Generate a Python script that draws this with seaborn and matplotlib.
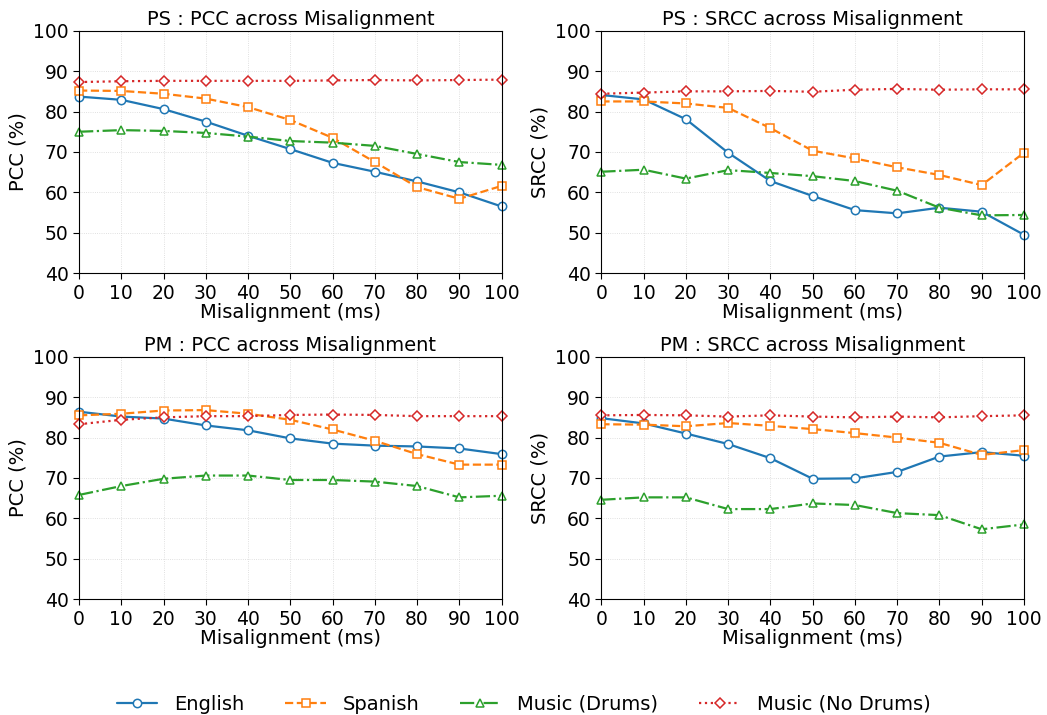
import numpy as np
import pandas as pd
import matplotlib
matplotlib.use("Agg")
import matplotlib.pyplot as plt
import seaborn as sns

misalignment = [0, 10, 20, 30, 40, 50, 60, 70, 80, 90, 100]
series_names = ["English", "Spanish", "Music (Drums)", "Music (No Drums)"]

ps_pcc_english = [83.7, 82.9, 80.6, 77.5, 74.0, 70.7, 67.3, 65.1, 62.7, 60.0, 56.5]
ps_pcc_spanish = [85.2, 85.1, 84.4, 83.2, 81.1, 77.9, 73.5, 67.5, 61.3, 58.4, 61.6]
ps_pcc_drums = [75.0, 75.4, 75.2, 74.7, 73.8, 72.7, 72.3, 71.5, 69.5, 67.5, 66.8]
ps_pcc_nodrums = [87.3, 87.5, 87.6, 87.6, 87.6, 87.6, 87.7, 87.8, 87.7, 87.8, 87.9]

ps_srcc_english = [84.1, 83.0, 78.1, 69.8, 62.8, 59.1, 55.6, 54.8, 56.2, 55.2, 49.5]
ps_srcc_spanish = [82.5, 82.5, 82.0, 80.9, 75.9, 70.3, 68.4, 66.2, 64.3, 61.8, 69.8]
ps_srcc_drums = [65.1, 65.6, 63.4, 65.5, 64.8, 64.0, 62.8, 60.4, 56.2, 54.3, 54.4]
ps_srcc_nodrums = [84.4, 84.7, 85.0, 85.0, 85.1, 84.9, 85.4, 85.6, 85.4, 85.5, 85.5]

pm_pcc_english = [86.4, 85.2, 84.7, 83.0, 81.8, 79.8, 78.5, 78.0, 77.8, 77.3, 75.9]
pm_pcc_spanish = [85.5, 85.9, 86.7, 86.8, 85.9, 84.4, 82.0, 79.2, 75.9, 73.3, 73.3]
pm_pcc_drums = [65.8, 68.0, 69.8, 70.6, 70.6, 69.5, 69.5, 69.1, 68.0, 65.2, 65.6]
pm_pcc_nodrums = [83.3, 84.4, 85.0, 85.3, 85.3, 85.6, 85.7, 85.6, 85.3, 85.3, 85.3]

pm_srcc_english = [84.8, 83.5, 81.0, 78.4, 74.9, 69.8, 69.9, 71.5, 75.3, 76.4, 75.5]
pm_srcc_spanish = [83.3, 83.2, 82.8, 83.6, 82.9, 82.1, 81.1, 80.0, 78.7, 75.7, 76.9]
pm_srcc_drums = [64.6, 65.2, 65.2, 62.3, 62.3, 63.7, 63.3, 61.3, 60.8, 57.3, 58.5]
pm_srcc_nodrums = [85.5, 85.6, 85.5, 85.2, 85.5, 85.2, 85.0, 85.2, 85.0, 85.3, 85.5]

panels = [
    ("PS : PCC across Misalignment", "PCC (%)", [ps_pcc_english, ps_pcc_spanish, ps_pcc_drums, ps_pcc_nodrums]),
    ("PS : SRCC across Misalignment", "SRCC (%)", [ps_srcc_english, ps_srcc_spanish, ps_srcc_drums, ps_srcc_nodrums]),
    ("PM : PCC across Misalignment", "PCC (%)", [pm_pcc_english, pm_pcc_spanish, pm_pcc_drums, pm_pcc_nodrums]),
    ("PM : SRCC across Misalignment", "SRCC (%)", [pm_srcc_english, pm_srcc_spanish, pm_srcc_drums, pm_srcc_nodrums]),
]

sns.set_style("ticks")
plt.rcParams["font.family"] = ["DejaVu Sans"]
plt.rcParams["text.color"] = "black"
plt.rcParams["axes.labelcolor"] = "black"
plt.rcParams["xtick.color"] = "black"
plt.rcParams["ytick.color"] = "black"

colors = ["#1f77b4", "#ff7f0e", "#2ca02c", "#d62728"]
styles = ["-", "--", "-.", ":"]
markers = ["o", "s", "^", "D"]

fig, axes = plt.subplots(2, 2, figsize=(10.47, 7.15), dpi=100)
fig.subplots_adjust(left=0.0755, right=0.978, top=0.957, bottom=0.162, wspace=0.236, hspace=0.345)

for ax, (title, ylabel, vals) in zip(axes.flat, panels):
    for name, v, c, ls, mk in zip(series_names, vals, colors, styles, markers):
        df = pd.DataFrame({"x": misalignment, "y": v})
        sns.lineplot(data=df, x="x", y="y", ax=ax, color=c, linestyle=ls, marker=mk,
                     markersize=6 if mk != "D" else 5.5, markerfacecolor="white",
                     markeredgecolor=c, markeredgewidth=1.1, linewidth=1.6, label=name,
                     legend=False, clip_on=False)
    ax.set_xlim(0, 100)
    ax.set_ylim(40, 100)
    ax.set_xticks(misalignment)
    ax.set_yticks([40, 50, 60, 70, 80, 90, 100])
    ax.tick_params(labelsize=13.5, length=4, width=0.8, colors="black")
    ax.set_title(title, fontsize=14, pad=4, color="black")
    ax.set_xlabel("Misalignment (ms)", fontsize=14, labelpad=0, color="black")
    ax.set_ylabel(ylabel, fontsize=14, labelpad=4, color="black")
    ax.grid(True, linestyle=":", linewidth=0.6, color="#cccccc", alpha=0.8)
    for s in ax.spines.values():
        s.set_color("black")
        s.set_linewidth(0.8)

handles, labels = axes[0, 0].get_legend_handles_labels()
fig.legend(handles, labels, loc="center", bbox_to_anchor=(0.5, 0.015), ncol=4,
           frameon=False, fontsize=14, handlelength=2.1, handletextpad=0.85,
           columnspacing=2.1)

fig.savefig("out.png", dpi=100)
